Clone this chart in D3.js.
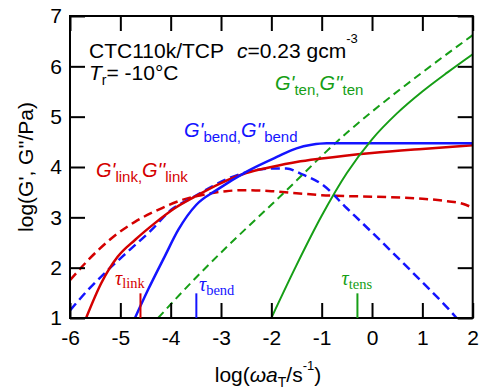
<!DOCTYPE html>
<html>
<head>
<meta charset="utf-8">
<script src="https://cdn.jsdelivr.net/npm/d3@7"></script>
<style>
  body { margin: 0; background: #fff; }
  svg text { font-family: "Liberation Sans", Arial, sans-serif; }
  .serif { font-family: "Liberation Serif", "Times New Roman", serif; }
</style>
</head>
<body>
<div id="chart"></div>
<script>
// curves: [log(w aT), log G]
const linkGp = [[-5.68, 1], [-5.38, 1.69], [-5.05, 2.22], [-4.71, 2.55], [-4.32, 2.88], [-3.92, 3.18], [-3.52, 3.41],
  [-3, 3.68], [-2.5, 3.88], [-2, 4.0], [-1.5, 4.1], [-1, 4.17], [0, 4.28], [1, 4.36], [2, 4.43]]
const linkGpp = [[-6, 1.75], [-5.64, 2.15], [-5.18, 2.58], [-4.71, 2.91], [-4.25, 3.15], [-3.79, 3.34], [-3.3, 3.46],
  [-2.9, 3.52], [-2.5, 3.54], [-2, 3.52], [-1.5, 3.48], [-1, 3.44], [0, 3.41], [1, 3.37], [1.5, 3.32], [1.8, 3.27], [2, 3.19]]
const bendGp = [[-4.71, 1], [-4.45, 1.56], [-4.12, 2.22], [-3.85, 2.75], [-3.49, 3.25], [-3.09, 3.54], [-2.49, 3.91],
  [-1.89, 4.2], [-1.5, 4.37], [-1.2, 4.44], [-0.9, 4.47], [0, 4.47], [2, 4.47]]
const bendGpp = [[-6, 1.15], [-5.64, 1.56], [-5.25, 1.95], [-4.85, 2.32], [-4.38, 2.75], [-3.99, 3.15], [-3.59, 3.38],
  [-3.2, 3.6], [-2.76, 3.81], [-2.4, 3.92], [-2, 3.97], [-1.7, 3.97], [-1.4, 3.86], [-1, 3.66], [-0.5, 3.18],
  [0, 2.7], [0.5, 2.21], [1, 1.71], [1.5, 1.2], [1.68, 1]]
const tenGp = [[-2, 1], [-1.5, 2.05], [-1, 3.03], [-0.5, 3.88], [0, 4.55], [0.5, 5.07], [1, 5.5], [1.5, 5.88], [2, 6.24]]
const tenGpp = [[-4.25, 1], [-3.5, 1.8], [-3, 2.3], [-2.5, 2.78], [-2, 3.25], [-1.5, 3.73], [-1, 4.22], [-0.5, 4.68],
  [0, 5.1], [1, 5.88], [2, 6.62]]

// relaxation time markers (log tau^-1) and their labels
const tauNames = ['link', 'bend', 'tens']
const tauX = [-4.6, -3.49, -0.29]
const tauTop = 1.49

const xTicks = [-6, -5, -4, -3, -2, -1, 0, 1, 2]
const yTicks = [1, 2, 3, 4, 5, 6, 7]

const RED = '#d40000', BLUE = '#1414ff', GREEN = '#169e16'

const W = 480, H = 392
const m = { left: 70, right: 7.3, top: 16, bottom: 74 }

const svg = d3.select('#chart').append('svg').attr('width', W).attr('height', H)

const x = d3.scaleLinear().domain([-6, 2]).range([m.left, W - m.right])
const y = d3.scaleLinear().domain([1, 7]).range([H - m.bottom, m.top])

svg.append('clipPath').attr('id', 'plot')
  .append('rect').attr('x', x(-6)).attr('y', y(7)).attr('width', x(2) - x(-6)).attr('height', y(1) - y(7))

const line = d3.line().x(d => x(d[0])).y(d => y(d[1])).curve(d3.curveMonotoneX)

const series = [
  { data: linkGpp, color: RED, width: 2.5, dash: '9,5' },
  { data: bendGpp, color: BLUE, width: 2.5, dash: '9,5' },
  { data: tenGpp, color: GREEN, width: 2, dash: '8,5' },
  { data: linkGp, color: RED, width: 2.5 },
  { data: bendGp, color: BLUE, width: 2.5 },
  { data: tenGp, color: GREEN, width: 2 },
]

const curves = svg.append('g').attr('clip-path', 'url(#plot)')
series.forEach(s => {
  curves.append('path')
    .attr('d', line(s.data))
    .attr('fill', 'none')
    .attr('stroke', s.color)
    .attr('stroke-width', s.width)
    .attr('stroke-dasharray', s.dash || null)
})

// axes, ticks pointing inward on all four sides
const fmt = d => String(d)
function styleAxis(g) {
  g.select('.domain').remove()
  g.selectAll('.tick line').attr('stroke', '#000').attr('stroke-width', 2)
  g.selectAll('.tick text').attr('fill', '#000').style('font-size', '21px')
}
svg.append('g').attr('transform', `translate(0,${y(1)})`)
  .call(d3.axisBottom(x).tickValues(xTicks).tickFormat(fmt).tickSize(-15).tickPadding(12)).call(styleAxis)
svg.append('g').attr('transform', `translate(0,${y(7)})`)
  .call(d3.axisTop(x).tickValues(xTicks).tickFormat('').tickSize(-15)).call(styleAxis)
svg.append('g').attr('transform', `translate(${x(-6)},0)`)
  .call(d3.axisLeft(y).tickValues(yTicks).tickFormat(fmt).tickSize(-15).tickPadding(8)).call(styleAxis)
svg.append('g').attr('transform', `translate(${x(2)},0)`)
  .call(d3.axisRight(y).tickValues(yTicks).tickFormat('').tickSize(-15)).call(styleAxis)

svg.append('rect')
  .attr('x', x(-6)).attr('y', y(7)).attr('width', x(2) - x(-6)).attr('height', y(1) - y(7))
  .attr('fill', 'none').attr('stroke', '#000').attr('stroke-width', 2)

// tau markers
const tauColors = [RED, BLUE, GREEN]
svg.append('g').selectAll('line').data(tauX).join('line')
  .attr('x1', d => x(d)).attr('x2', d => x(d))
  .attr('y1', y(1)).attr('y2', y(tauTop))
  .attr('stroke', (d, i) => tauColors[i]).attr('stroke-width', 2)

const tauLabelPos = [[115, 285, 3], [199, 291, 4], [341.5, 285, 4]]
tauNames.forEach((name, i) => {
  const [tx, ty, sub] = tauLabelPos[i]
  const t = svg.append('text').attr('class', 'serif').attr('x', tx).attr('y', ty).attr('fill', tauColors[i])
  t.append('tspan').attr('font-style', 'italic').style('font-size', '20px').text('τ')
  t.append('tspan').attr('dy', sub).style('font-size', '14.5px').text(name)
})

// G', G'' labels
function gLabel(px, py, sub, color) {
  const t = svg.append('text').attr('x', px).attr('y', py).attr('fill', color).style('font-size', '20px')
  t.append('tspan').attr('font-style', 'italic').text("G'")
  t.append('tspan').attr('dy', 5).style('font-size', '15px').text(sub + ',')
  t.append('tspan').attr('dy', -5).attr('font-style', 'italic').text("G''")
  t.append('tspan').attr('dy', 5).style('font-size', '15px').text(sub)
}
gLabel(96, 176.7, 'link', RED)
gLabel(184, 136.7, 'bend', BLUE)
gLabel(275, 90, 'ten', GREEN)

// sample annotation
svg.append('text').attr('x', 89).attr('y', 58).style('font-size', '21px').text('CTC110k/TCP')
const conc = svg.append('text').attr('x', 237).attr('y', 58).style('font-size', '21px')
conc.append('tspan').attr('font-style', 'italic').text('c')
conc.append('tspan').text('=0.23 gcm')
conc.append('tspan').attr('dy', -15).style('font-size', '13px').text('-3')

const tr = svg.append('text').attr('x', 89).attr('y', 80).style('font-size', '21px')
tr.append('tspan').attr('font-style', 'italic').text('T')
tr.append('tspan').attr('dy', 5).style('font-size', '14px').text('r')
tr.append('tspan').attr('dy', -5).text('= -10°C')

// axis titles
svg.append('text')
  .attr('transform', `translate(33,${(y(1) + y(7)) / 2}) rotate(-90)`)
  .attr('text-anchor', 'middle').style('font-size', '21px')
  .text("log(G', G''/Pa)")

const xl = svg.append('text').attr('x', 268).attr('y', 382).attr('text-anchor', 'middle').style('font-size', '21px')
xl.append('tspan').text('log(')
xl.append('tspan').attr('font-style', 'italic').text('ωa')
xl.append('tspan').attr('dy', 5).style('font-size', '14px').text('T')
xl.append('tspan').attr('dy', -5).text('/s')
xl.append('tspan').attr('dy', -12).style('font-size', '13px').text('-1')
xl.append('tspan').attr('dy', 12).text(')')
</script>
</body>
</html>
